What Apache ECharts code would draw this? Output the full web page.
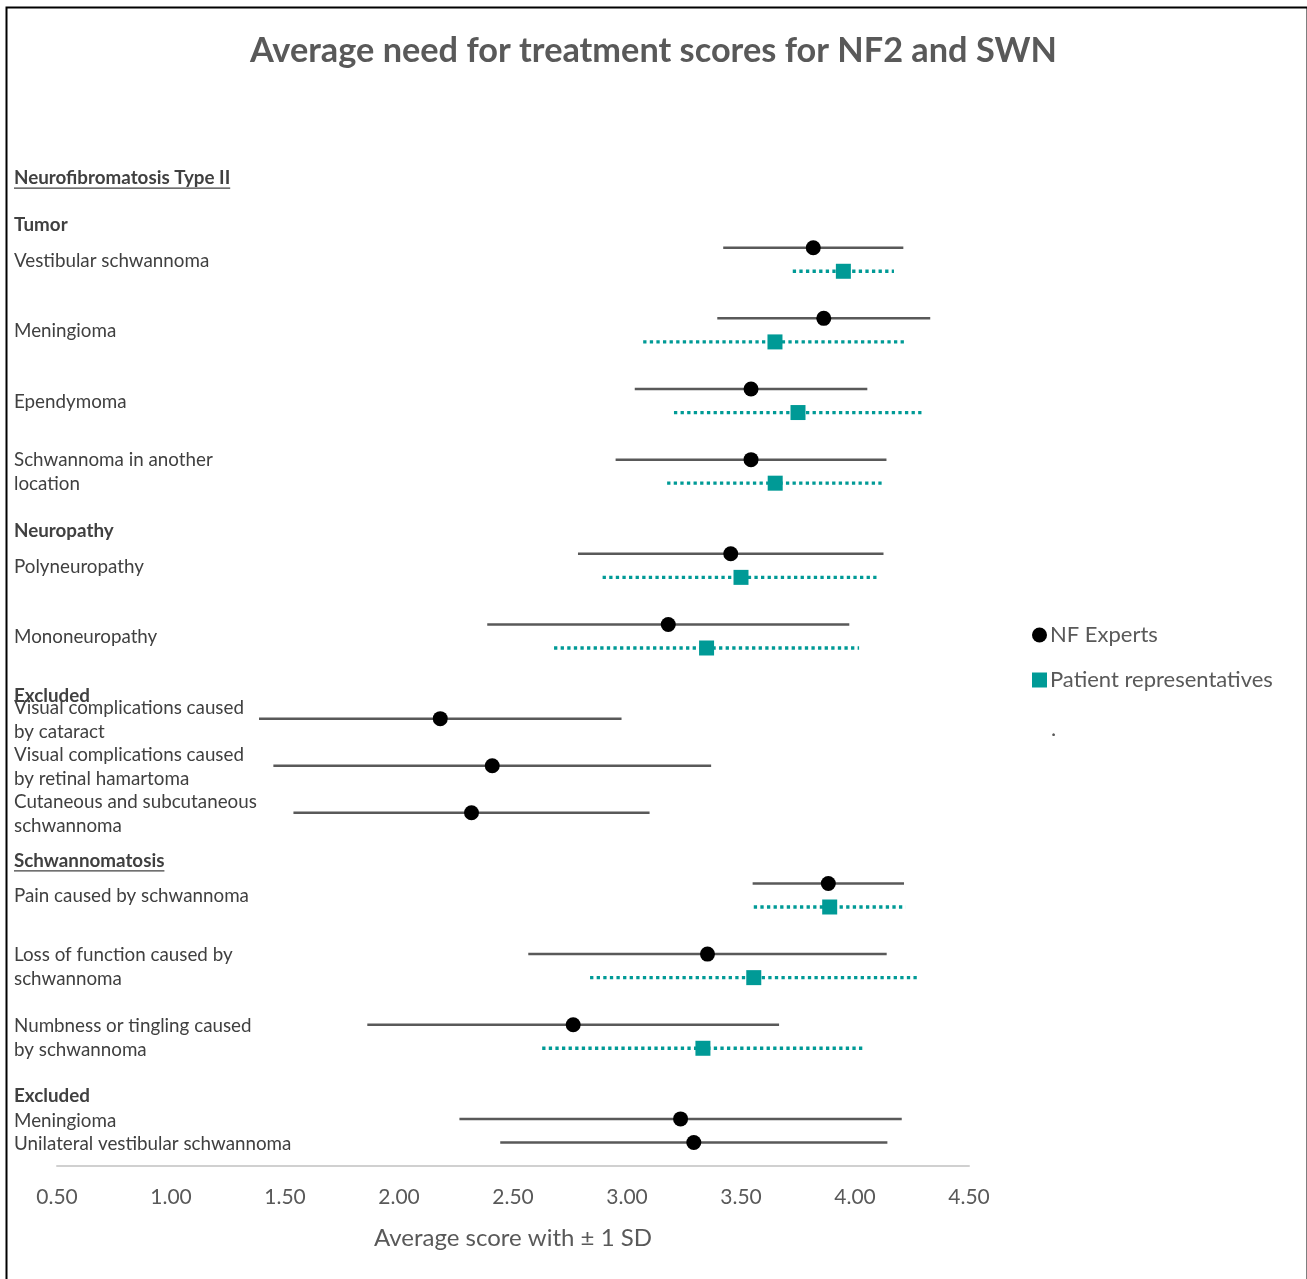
<!DOCTYPE html>
<html>
<head>
<meta charset="utf-8">
<script src="https://cdn.jsdelivr.net/npm/echarts@6/dist/echarts.min.js"></script>
<style>
  html, body { margin: 0; padding: 0; background: #fff; }
  #main { width: 1307px; height: 1279px; }
</style>
</head>
<body>
<div id="main"></div>
<script>
// row positions on the (hidden) vertical value axis, 0 = bottom
var nfRows   = [39, 36, 33, 30, 26, 23, 19, 17, 15, 12, 9, 6, 2, 1];
var nfMean   = [3.817, 3.863, 3.544, 3.544, 3.455, 3.181, 2.181, 2.409, 2.318, 3.883, 3.353, 2.764, 3.235, 3.293];
var nfSD     = [0.395, 0.467, 0.510, 0.594, 0.670, 0.794, 0.795, 0.960, 0.781, 0.332, 0.786, 0.903, 0.970, 0.849];

var ptRows   = [38, 35, 32, 29, 25, 22, 11, 8, 5];
var ptMean   = [3.949, 3.649, 3.750, 3.650, 3.500, 3.349, 3.889, 3.556, 3.333];
var ptSD     = [0.222, 0.578, 0.544, 0.474, 0.607, 0.669, 0.333, 0.718, 0.705];

// left hand labels: text, row, kind (0 normal, 1 bold, 2 bold + underline)
var labelText = [
  'Neurofibromatosis Type II', 'Tumor', 'Vestibular schwannoma', 'Meningioma', 'Ependymoma',
  'Schwannoma in another\nlocation', 'Neuropathy', 'Polyneuropathy', 'Mononeuropathy', 'Excluded',
  'Visual complications caused\nby cataract', 'Visual complications caused\nby retinal hamartoma',
  'Cutaneous and subcutaneous\nschwannoma', 'Schwannomatosis', 'Pain caused by schwannoma',
  'Loss of function caused by\nschwannoma', 'Numbness or tingling caused\nby schwannoma', 'Excluded',
  'Meningioma', 'Unilateral vestibular schwannoma'
];
var labelRow  = [42, 40, 38.5, 35.5, 32.5, 29.5, 27, 25.5, 22.5, 20, 19, 17, 15, 13, 11.5, 8.5, 5.5, 3, 1.95, 1];
var labelKind = [2, 1, 0, 0, 0, 0, 1, 0, 0, 1, 0, 0, 0, 2, 0, 0, 0, 1, 0, 0];

var xTicks = [0.5, 4.5, 0.5]; // min, max, step

var FONT = 'Lato';
var GREY = '#595959';
var TEAL = '#009a96';

var measureCtx = document.createElement('canvas').getContext('2d');

function barData(rows, mean, sd) {
  return rows.map(function (r, i) { return [mean[i] - sd[i], mean[i] + sd[i], r]; });
}
function pointData(rows, mean) {
  return rows.map(function (r, i) { return [mean[i], r]; });
}
function barRenderer(style) {
  return function (params, api) {
    var a = api.coord([api.value(0), api.value(2)]);
    var b = api.coord([api.value(1), api.value(2)]);
    return {
      type: 'line',
      shape: { x1: a[0], y1: a[1], x2: b[0], y2: b[1] },
      style: style
    };
  };
}

var chart = echarts.init(document.getElementById('main'));

var option = {
  backgroundColor: '#fff',
  animation: false,
  title: {
    text: 'Average need for treatment scores for NF2 and SWN',
    left: 'center',
    top: 29,
    textStyle: { fontFamily: FONT, fontSize: 34.3, fontWeight: 'bold', color: GREY }
  },
  legend: {
    orient: 'vertical',
    left: 1027,
    top: 619,
    itemWidth: 15,
    itemHeight: 15,
    itemGap: 23,
    data: ['NF Experts', 'Patient representatives'],
    textStyle: { fontFamily: FONT, fontSize: 22, color: GREY, padding: [0, 0, 0, -2] }
  },
  grid: { left: 57, right: 338, top: 130, bottom: 113 },
  xAxis: {
    type: 'value',
    min: xTicks[0],
    max: xTicks[1],
    interval: xTicks[2],
    name: 'Average score with \u00b1 1 SD',
    nameLocation: 'middle',
    nameGap: 60,
    nameTextStyle: { fontFamily: FONT, fontSize: 24, color: GREY },
    axisLine: { lineStyle: { color: '#d0d0d0', width: 2 } },
    axisTick: { show: false },
    splitLine: { show: false },
    axisLabel: {
      margin: 21,
      fontFamily: FONT, fontSize: 21, color: GREY,
      formatter: function (v) { return v.toFixed(2); }
    }
  },
  yAxis: {
    type: 'value', min: 0, max: 44,
    show: false, splitLine: { show: false }
  },
  graphic: [
    {
      type: 'rect', left: 4, top: 5, silent: true,
      shape: { width: 1301, height: 1300 },
      style: { fill: 'none', stroke: '#000', lineWidth: 2 }
    },
    {
      type: 'text', left: 1051, top: 718,
      style: { text: '.', font: '22px ' + FONT, fill: GREY }
    }
  ],
  series: [
    {
      type: 'custom',
      name: 'labels',
      silent: true,
      clip: false,
      data: labelText.map(function (t, i) { return [xTicks[0], labelRow[i], i]; }),
      renderItem: function (params, api) {
        var i = api.value(2);
        var p = api.coord([api.value(0), api.value(1)]);
        var kind = labelKind[i];
        var font = (kind ? 'bold ' : '') + '18.8px ' + FONT;
        var children = [{
          type: 'text',
          style: {
            x: 14, y: p[1] + 1, text: labelText[i], font: font, fill: '#404040',
            textVerticalAlign: 'middle', verticalAlign: 'middle', lineHeight: 24
          }
        }];
        if (kind === 2) {
          measureCtx.font = font;
          var w = measureCtx.measureText(labelText[i]).width;
          children.push({
            type: 'line',
            shape: { x1: 14, y1: p[1] + 11, x2: 14 + w, y2: p[1] + 11 },
            style: { stroke: '#404040', lineWidth: 1.3 }
          });
        }
        return { type: 'group', children: children };
      }
    },
    {
      type: 'custom',
      name: 'NF SD',
      silent: true,
      z: 2,
      data: barData(nfRows, nfMean, nfSD),
      renderItem: barRenderer({ stroke: GREY, lineWidth: 2.5 })
    },
    {
      type: 'custom',
      name: 'Patient SD',
      silent: true,
      z: 2,
      data: barData(ptRows, ptMean, ptSD),
      renderItem: barRenderer({ stroke: TEAL, lineWidth: 3.3, lineDash: [3.3, 3.3] })
    },
    {
      type: 'scatter',
      name: 'NF Experts',
      z: 5,
      symbol: 'circle',
      symbolSize: 15,
      itemStyle: { color: '#000', opacity: 1 },
      data: pointData(nfRows, nfMean)
    },
    {
      type: 'scatter',
      name: 'Patient representatives',
      z: 5,
      symbol: 'rect',
      symbolSize: 15,
      itemStyle: { color: TEAL, opacity: 1 },
      data: pointData(ptRows, ptMean)
    }
  ]
};

chart.setOption(option);
</script>
</body>
</html>
